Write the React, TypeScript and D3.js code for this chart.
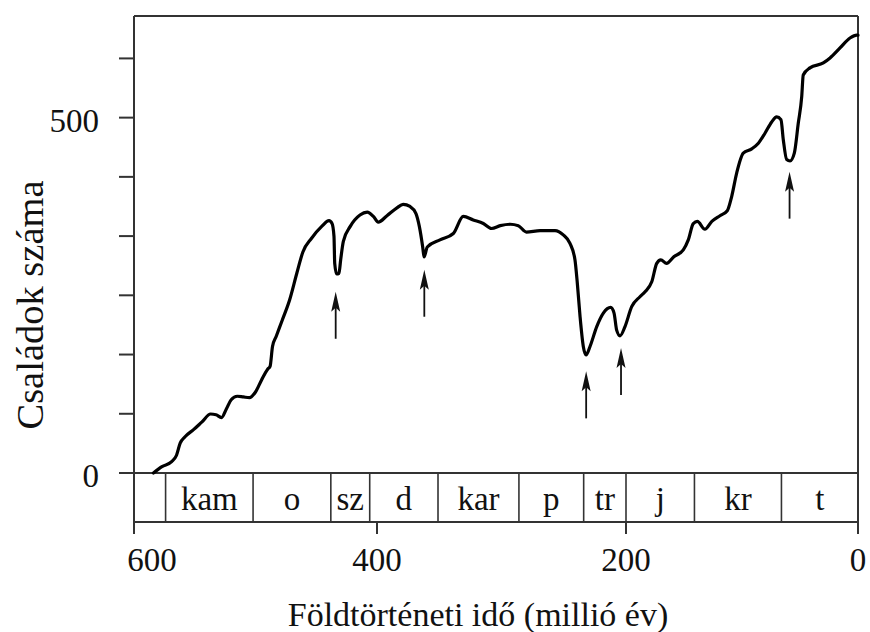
import React from "react";
import * as d3 from "d3";

// age in million years (before present) and number of marine families
const ages = [
  584, 577, 569, 565, 562, 558, 551, 544, 537, 532.5, 528, 524, 520, 515, 510,
  505, 500, 495, 490, 488, 486, 483, 478, 472, 466, 461, 454, 445.5, 439.5, 437,
  435.4, 434.8, 433.2, 431.3, 429.9, 427.7, 422, 414, 408, 403, 399, 392, 384,
  379, 373.5, 368.7, 366, 363.3, 362.2, 359.6, 349.4, 338.7, 330.7, 322.7,
  314.6, 308, 301, 293, 286.5, 280, 269, 257, 250.4, 245, 241, 239.1, 236.9,
  234.3, 232.1, 228.9, 223.5, 218.2, 212.3, 209.6, 207.5, 204.8, 200.8, 195.1,
  188, 183.6, 177.8, 173.5, 170, 165, 159, 150.6, 146.3, 142, 138.5, 132, 126,
  119, 112.7, 108.9, 104.6, 98.9, 91.6, 85.9, 80.2, 74.4, 70.1, 66.4, 64.4,
  61.5, 58.6, 54.9, 51.5, 48.5, 47.2, 41.4, 29.9, 24.1, 15.5, 6.9, 1.1, 0,
];
const families = [
  0, 9, 16, 25, 42, 51, 61, 72, 83, 82, 78, 90, 103, 108, 107, 106, 114, 131,
  146, 150, 178, 192, 215, 243, 281, 311, 330, 347, 355, 351, 333, 295, 280,
  281, 300, 326, 347, 363, 367, 361, 353, 362, 373, 378, 375, 365, 347, 318,
  304, 318, 328, 337, 361, 356, 351, 344, 348, 350, 348, 339, 341, 341, 335,
  323, 300, 267, 220, 178, 166, 178, 206, 225, 233, 225, 201, 193, 206, 234,
  248, 255, 269, 295, 300, 295, 304, 314, 328, 351, 354, 343, 354, 362, 369,
  389, 422, 450, 456, 464, 478, 494, 501, 497, 469, 441, 439, 450, 492, 530,
  560, 570, 577, 584, 598, 612, 616, 616,
];

// mass extinctions (arrows)
const extinctionAges = [434, 362, 232, 204, 59];
const arrowTipFamilies = [255, 286, 143, 176, 424];

// geological periods
const periodBounds = [600, 574, 502, 438, 406, 351, 286, 234, 200, 141, 66, 0];
const periodLabels = ["", "kam", "o", "sz", "d", "kar", "p", "tr", "j", "kr", "t"];

const xTicks = [600, 400, 200, 0];
const yTicks = [0, 83.33, 166.67, 250, 333.33, 416.67, 500, 583.33];
const yTickLabels = ["0", "", "", "", "", "", "500", ""];

const serif = { fontFamily: '"Liberation Serif", "DejaVu Serif", serif' };

const App = () => {
  const width = 870;
  const height = 632;
  const left = 134;
  const right = 858;
  const top = 16;
  const bandBottom = 522;

  // the original axis is slightly uneven, so a polylinear scale follows it
  const x = d3.scaleLinear().domain([600, 400, 200, 0]).range([134, 377, 626, 858]);
  const y = d3.scaleLinear().domain([0, 643]).range([473, top]);

  const points = ages.map((a, i) => [a, families[i]]);
  const line = d3
    .line()
    .x(d => x(d[0]))
    .y(d => y(d[1]))
    .curve(d3.curveMonotoneX);

  const axisColor = "#333";

  return (
    <svg
      width={width}
      height={height}
      style={{ position: "absolute", left: 0, top: 0, background: "#fff" }}
    >
      {/* frame */}
      <line x1={left} x2={right} y1={top} y2={top} stroke={axisColor} strokeWidth={2} />
      <line x1={left} x2={left} y1={top} y2={bandBottom + 11} stroke={axisColor} strokeWidth={2} />
      <line x1={right} x2={right} y1={top} y2={bandBottom + 11} stroke={axisColor} strokeWidth={2} />
      <line x1={left} x2={right} y1={bandBottom} y2={bandBottom} stroke={axisColor} strokeWidth={2} />
      <line x1={left - 15} x2={right} y1={y(0)} y2={y(0)} stroke={axisColor} strokeWidth={2} />

      {/* y ticks */}
      {yTicks.map((t, i) => (
        <g key={"yt" + i}>
          <line x1={left - 15} x2={left} y1={y(t)} y2={y(t)} stroke={axisColor} strokeWidth={2} />
          {yTickLabels[i] && (
            <text x={99} y={y(t) + 14} textAnchor="end" fontSize={33} fill="#111" style={serif}>
              {yTickLabels[i]}
            </text>
          )}
        </g>
      ))}

      {/* x ticks */}
      {xTicks.map((t, i) => (
        <g key={"xt" + i}>
          <line x1={x(t)} x2={x(t)} y1={bandBottom} y2={bandBottom + 12} stroke={axisColor} strokeWidth={2} />
          <text
            x={i === 0 ? x(t) + 18 : x(t)}
            y={571}
            textAnchor="middle"
            fontSize={33}
            fill="#111"
            style={serif}
          >
            {t}
          </text>
        </g>
      ))}

      {/* period band */}
      {periodLabels.map((p, i) => {
        const x0 = x(periodBounds[i]);
        const x1 = x(periodBounds[i + 1]);
        return (
          <g key={"p" + i}>
            {i > 0 && (
              <line x1={x0} x2={x0} y1={y(0)} y2={bandBottom} stroke={axisColor} strokeWidth={1.6} />
            )}
            <text x={(x0 + x1) / 2} y={510} textAnchor="middle" fontSize={33} fill="#111" style={serif}>
              {p}
            </text>
          </g>
        );
      })}

      {/* diversity curve */}
      <path
        d={line(points) || ""}
        fill="none"
        stroke="#000"
        strokeWidth={3.2}
        strokeLinejoin="round"
        strokeLinecap="round"
      />

      {/* extinction arrows */}
      {extinctionAges.map((a, i) => {
        const ax = x(a);
        const ay = y(arrowTipFamilies[i]);
        return (
          <g key={"ar" + i}>
            <line x1={ax} x2={ax} y1={ay + 12} y2={ay + 47} stroke="#111" strokeWidth={1.8} />
            <path
              d={`M${ax},${ay} L${ax - 4.5},${ay + 20} L${ax},${ay + 16} L${ax + 4.5},${ay + 20} Z`}
              fill="#111"
            />
          </g>
        );
      })}

      {/* axis titles */}
      <text x={478} y={626} textAnchor="middle" fontSize={34} fill="#111" style={serif}>
        Földtörténeti idő (millió év)
      </text>
      <text
        transform={`translate(43,305) rotate(-90)`}
        textAnchor="middle"
        fontSize={38.5}
        fill="#111"
        style={serif}
      >
        Családok száma
      </text>
    </svg>
  );
};

export default App;
